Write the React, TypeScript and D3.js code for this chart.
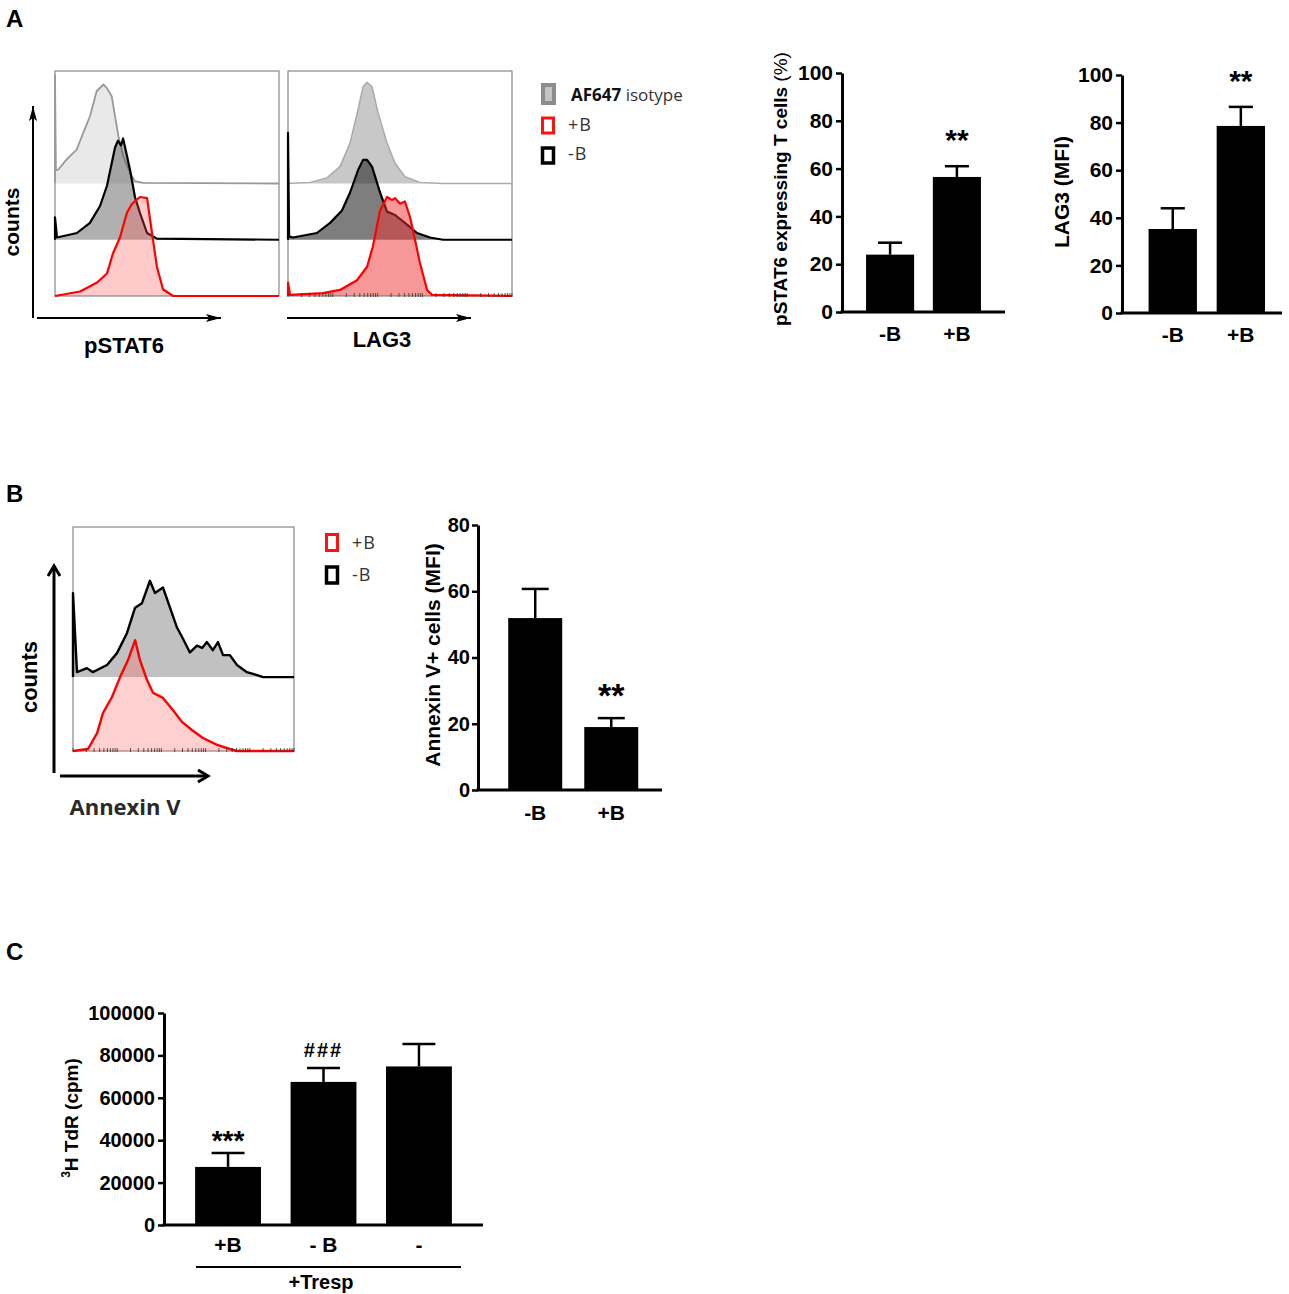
import React, { useEffect, useRef } from 'react';
import * as d3 from 'd3';

const W = 1289;
const H = 1294;
const ARIAL = 'Liberation Sans, Arial, sans-serif';
const SEGOE = 'Open Sans, sans-serif';

// bar data
const groupsAB = ['-B', '+B'];
const pstat6Mean = [24, 56.5];
const pstat6Err = [5, 4.5];
const pstat6Sig = ['', '**'];
const lag3Mean = [35.3, 78.6];
const lag3Err = [8.7, 8];
const lag3Sig = ['', '**'];
const annexinMean = [51.9, 19];
const annexinErr = [8.8, 2.7];
const annexinSig = ['', '**'];
const groupsC = ['+B', '- B', '-'];
const tdrMean = [27400, 67500, 74800];
const tdrErr = [6600, 6500, 10600];
const tdrSig = ['***', '###', ''];
const ticksA = [0, 20, 40, 60, 80, 100];
const ticksB = [0, 20, 40, 60, 80];
const ticksC = [0, 20000, 40000, 60000, 80000, 100000];

// histogram traces: [channel 0-100, counts]
const pstat6Iso = [[0, 0], [0, 48], [0.4, 6], [1.5, 6.2], [5.2, 10.7], [9.7, 15.1], [12.6, 22.5], [15.6, 29.9], [18.6, 41], [21.6, 44], [23.1, 42.5], [25.3, 38.8], [26.8, 29.9], [28.3, 21], [30.5, 12.1], [33.5, 4.7], [35.7, 1], [39.4, 0.3], [100, 0]];
const pstat6Neg = [[0, 0], [0, 10], [0.9, 1], [9.8, 3], [15.6, 7.5], [20.1, 15], [23.2, 24], [26.8, 41], [28.1, 44], [29.5, 42], [30.4, 45], [31.3, 41], [33.5, 31], [35.7, 19], [37.9, 12], [41.1, 3], [45.5, 0.5], [100, 0]];
const pstat6Pos = [[0, 0], [11.2, 2], [18.8, 6], [23.2, 10], [25.9, 19], [29, 26], [32.1, 37], [34.4, 41], [37.9, 44], [41.1, 43.5], [43.3, 28], [45.5, 13], [48.2, 3], [52.7, 0], [100, 0]];
const lag3Iso = [[0, 0], [9.8, 0.5], [17.4, 2.5], [23.2, 7.5], [27.7, 18], [31.3, 33], [33.5, 43], [35.3, 45], [37.5, 43], [40.2, 31.5], [44.2, 18], [47.8, 9], [52.2, 3], [58.9, 0.5], [69.2, 0], [100, 0]];
const lag3Neg = [[0, 0], [0, 47.5], [0.5, 1.5], [2.2, 1], [12.9, 3], [18.8, 7.5], [24.1, 13], [27.7, 21], [31.3, 31], [33.5, 35.5], [35.3, 35.5], [37.5, 32.5], [41.1, 21], [44.2, 12.5], [47.8, 11], [52.2, 7.5], [57.6, 3], [63.4, 1], [69.2, 0], [100, 0]];
const lag3Pos = [[0, 0], [0, 6], [0.9, 0.5], [15.6, 1.3], [23.2, 2.7], [30.8, 7], [35.3, 13], [37.9, 22], [41.1, 38], [44.2, 44], [46.4, 42.7], [47.8, 43.5], [50, 41], [52.2, 42], [54.5, 35], [56.7, 25], [58.9, 14.7], [62.1, 2.7], [64.3, 0.5], [100, 0]];
const annexinNeg = [[0, 0], [0, 37.5], [1.8, 2.2], [6.3, 4], [9, 2.2], [15.4, 5.4], [19.9, 10.7], [24.4, 19.6], [28.1, 31], [31.2, 33], [34.8, 43], [37.1, 37.5], [40.7, 40], [43.9, 31], [47.1, 22], [49.3, 18], [52.9, 11], [56.1, 14], [58.4, 13], [60.6, 15.6], [63.3, 12], [65.6, 15.6], [67.9, 9.8], [71, 9.8], [74.2, 5.4], [78.7, 2.2], [83.3, 0.9], [86, 0], [100, 0]];
const annexinPos = [[0, 0], [6.8, 0.9], [10.9, 8], [13.6, 17], [17.6, 24], [21.3, 33], [24.9, 40.6], [28.1, 49.5], [30.3, 40.6], [33.5, 31.7], [36.2, 26], [40.7, 23.7], [45.2, 18.3], [49.3, 13], [53.8, 9.4], [58.8, 5.8], [65.2, 2.7], [71, 0.9], [74.2, 0], [100, 0]];

const legendA = ['isotype', '+B', '-B'];
const legendB = ['+B', '-B'];

function drawHist(g, cfg) {
  const x = d3.scaleLinear().domain([0, 100]).range([cfg.x0, cfg.x1]);
  const y = d3.scaleLinear().domain([0, 100]).range([cfg.y1, cfg.y0]);
  g.append('rect')
    .attr('x', cfg.x0).attr('y', cfg.y0)
    .attr('width', cfg.x1 - cfg.x0).attr('height', cfg.y1 - cfg.y0)
    .attr('fill', 'none').attr('stroke', '#888').attr('stroke-width', 1.2);

  cfg.traces.forEach(t => {
    const area = d3.area()
      .x(d => x(d[0]))
      .y0(y(t.offset))
      .y1(d => y(d[1] + t.offset));
    const line = d3.line()
      .x(d => x(d[0]))
      .y(d => y(d[1] + t.offset));
    g.append('path').attr('d', area(t.data)).attr('fill', t.fill);
    g.append('path').attr('d', line(t.data))
      .attr('fill', 'none').attr('stroke', t.stroke)
      .attr('stroke-width', t.sw).attr('stroke-linejoin', 'round');
  });

  if (cfg.logTicks) {
    const lx = d3.scaleLog().domain([1, 100000]).range([cfg.x0, cfg.x1]);
    g.append('g').selectAll('line')
      .data(lx.ticks())
      .join('line')
      .attr('x1', d => lx(d)).attr('x2', d => lx(d))
      .attr('y1', cfg.y1 - 3).attr('y2', cfg.y1 + 1)
      .attr('stroke', '#333').attr('stroke-width', 0.8);
  }
}

function drawBars(g, cfg) {
  const x = d3.scaleBand().domain(cfg.groups)
    .range([cfg.x0, cfg.x1])
    .paddingInner(cfg.pi).paddingOuter(cfg.po).align(cfg.align);
  const y = d3.scaleLinear().domain([0, cfg.max]).range([cfg.y0, cfg.y1]);
  const data = cfg.groups.map((k, i) => ({ k, v: cfg.mean[i], e: cfg.err[i], sig: cfg.sig[i] }));
  const bw = x.bandwidth();

  g.append('g').selectAll('rect')
    .data(data)
    .join('rect')
    .attr('x', d => x(d.k))
    .attr('y', d => y(d.v))
    .attr('width', bw)
    .attr('height', d => y(0) - y(d.v))
    .attr('fill', '#000');

  // error bars (upper only)
  const eb = g.append('g').attr('stroke', '#000').attr('stroke-width', 2.5);
  eb.selectAll('.stem').data(data).join('line').attr('class', 'stem')
    .attr('x1', d => x(d.k) + bw / 2).attr('x2', d => x(d.k) + bw / 2)
    .attr('y1', d => y(d.v)).attr('y2', d => y(d.v + d.e));
  eb.selectAll('.cap').data(data).join('line').attr('class', 'cap')
    .attr('x1', d => x(d.k) + bw * 0.25).attr('x2', d => x(d.k) + bw * 0.75)
    .attr('y1', d => y(d.v + d.e)).attr('y2', d => y(d.v + d.e));

  // y axis
  const ya = g.append('g')
    .attr('transform', `translate(${cfg.x0},0)`)
    .call(d3.axisLeft(y).tickValues(cfg.ticks).tickFormat(d3.format('d'))
      .tickSize(6).tickSizeOuter(0).tickPadding(cfg.tickPad || 3));
  ya.select('.domain').attr('stroke-width', 3);
  ya.selectAll('.tick line').attr('stroke-width', 2.5);
  ya.selectAll('.tick text')
    .attr('font-family', ARIAL).attr('font-size', cfg.tickFs)
    .attr('font-weight', 'bold').attr('fill', '#000');

  // x axis
  g.append('line')
    .attr('x1', cfg.x0 - 1.5).attr('x2', cfg.x1)
    .attr('y1', y(0)).attr('y2', y(0))
    .attr('stroke', '#000').attr('stroke-width', 3);

  g.append('g').selectAll('text')
    .data(data)
    .join('text')
    .attr('x', d => x(d.k) + bw / 2)
    .attr('y', y(0) + cfg.catGap)
    .attr('text-anchor', 'middle')
    .attr('font-family', ARIAL).attr('font-size', cfg.catFs).attr('font-weight', 'bold')
    .text(d => d.k);

  // significance marks
  g.append('g').selectAll('text')
    .data(data.filter(d => d.sig))
    .join('text')
    .attr('x', d => x(d.k) + bw / 2)
    .attr('y', d => y(d.v + d.e) - (d.sig[0] === '#' ? cfg.hashGap : cfg.sigGap))
    .attr('text-anchor', 'middle')
    .attr('font-family', ARIAL)
    .attr('font-size', d => (d.sig[0] === '#' ? 20 : cfg.sigFs))
    .attr('font-weight', 'bold')
    .attr('letter-spacing', d => (d.sig[0] === '#' ? 2 : 0))
    .text(d => d.sig);

  // y label
  const yl = g.append('text')
    .attr('transform', `translate(${cfg.labX},${cfg.labY}) rotate(-90)`)
    .attr('text-anchor', 'middle')
    .attr('font-family', ARIAL).attr('font-size', cfg.labFs).attr('font-weight', 'bold');
  if (cfg.labSup) {
    yl.append('tspan').attr('font-size', 12).attr('dy', -8).text(cfg.labSup);
    yl.append('tspan').attr('dy', 8).text(cfg.label);
  } else if (cfg.labTail) {
    yl.append('tspan').text(cfg.label);
    yl.append('tspan').attr('font-weight', 'normal').text(cfg.labTail);
  } else {
    yl.text(cfg.label);
  }
}

function textAt(g, x, y, txt, opts = {}) {
  return g.append('text')
    .attr('x', x).attr('y', y)
    .attr('text-anchor', opts.anchor || 'start')
    .attr('font-family', opts.family || ARIAL)
    .attr('font-size', opts.size || 22)
    .attr('font-weight', opts.weight || 'bold')
    .attr('fill', opts.fill || '#000')
    .attr('transform', opts.rotate ? `rotate(-90,${x},${y})` : null)
    .text(txt);
}

const App = () => {
  const svgRef = useRef(null);

  useEffect(() => {
    const svg = d3.select(svgRef.current);
    svg.selectAll('*').remove();

    const defs = svg.append('defs');
    defs.append('marker')
      .attr('id', 'arrA').attr('markerUnits', 'userSpaceOnUse')
      .attr('markerWidth', 16).attr('markerHeight', 10)
      .attr('refX', 15).attr('refY', 4).attr('orient', 'auto')
      .append('path').attr('d', 'M0,0 L15,4 L0,8 L3,4 Z').attr('fill', '#000');
    defs.append('marker')
      .attr('id', 'arrB').attr('markerUnits', 'userSpaceOnUse')
      .attr('markerWidth', 14).attr('markerHeight', 16)
      .attr('refX', 11).attr('refY', 7).attr('orient', 'auto')
      .append('path').attr('d', 'M1,1 L11,7 L1,13')
      .attr('fill', 'none').attr('stroke', '#000').attr('stroke-width', 3);

    const g = svg.append('g');

    // ---------------- panel A ----------------
    textAt(g, 6, 27, 'A', { size: 24 });

    drawHist(g, {
      x0: 55, x1: 279, y0: 71, y1: 296,
      traces: [
        { data: pstat6Iso, offset: 50, fill: '#e9e9e9', stroke: '#999', sw: 1.8 },
        { data: pstat6Neg, offset: 25, fill: 'rgba(80,80,80,0.45)', stroke: '#000', sw: 2.2 },
        { data: pstat6Pos, offset: 0, fill: 'rgba(255,80,80,0.3)', stroke: '#ff0000', sw: 2.2 },
      ],
    });
    drawHist(g, {
      x0: 288, x1: 512, y0: 71, y1: 296, logTicks: true,
      traces: [
        { data: lag3Iso, offset: 50, fill: '#c8c8c8', stroke: '#aaa', sw: 1.5 },
        { data: lag3Neg, offset: 25, fill: 'rgba(40,40,40,0.6)', stroke: '#000', sw: 2.2 },
        { data: lag3Pos, offset: 0, fill: 'rgba(240,50,50,0.5)', stroke: '#ff0000', sw: 2.2 },
      ],
    });

    g.append('line').attr('x1', 33).attr('y1', 318).attr('x2', 33).attr('y2', 106)
      .attr('stroke', '#000').attr('stroke-width', 2).attr('marker-end', 'url(#arrA)');
    g.append('line').attr('x1', 37).attr('y1', 318).attr('x2', 221).attr('y2', 318)
      .attr('stroke', '#000').attr('stroke-width', 2).attr('marker-end', 'url(#arrA)');
    g.append('line').attr('x1', 287).attr('y1', 318).attr('x2', 471).attr('y2', 318)
      .attr('stroke', '#000').attr('stroke-width', 2).attr('marker-end', 'url(#arrA)');
    textAt(g, 19, 222, 'counts', { anchor: 'middle', rotate: true, size: 21 });
    textAt(g, 124, 353, 'pSTAT6', { anchor: 'middle', size: 22 });
    textAt(g, 382, 347, 'LAG3', { anchor: 'middle', size: 22 });

    // legend A
    g.append('rect').attr('x', 543).attr('y', 85).attr('width', 11).attr('height', 18)
      .attr('fill', '#c4c4c4').attr('stroke', '#8c8c8c').attr('stroke-width', 4);
    g.append('rect').attr('x', 542.5).attr('y', 118).attr('width', 11).attr('height', 15)
      .attr('fill', '#fff').attr('stroke', '#ff1010').attr('stroke-width', 3);
    g.append('rect').attr('x', 542.5).attr('y', 148).attr('width', 11).attr('height', 15)
      .attr('fill', '#fff').attr('stroke', '#000').attr('stroke-width', 3.5);
    const isoT = textAt(g, 571, 101, '', { family: SEGOE, size: 17, weight: 'normal', fill: '#333' });
    isoT.append('tspan').attr('font-weight', 'bold').attr('fill', '#111').text('AF647 ');
    isoT.append('tspan').text(legendA[0]);
    textAt(g, 568, 131, legendA[1], { family: SEGOE, size: 18, weight: 'normal', fill: '#333' }).attr('letter-spacing', 1);
    textAt(g, 568, 160, legendA[2], { family: SEGOE, size: 18, weight: 'normal', fill: '#333' }).attr('letter-spacing', 1);

    drawBars(g, {
      groups: groupsAB, mean: pstat6Mean, err: pstat6Err, sig: pstat6Sig,
      max: 100, ticks: ticksA,
      x0: 842, x1: 1005, y0: 312, y1: 73, pi: 0.28, po: 0.36, align: 0.5,
      tickFs: 21, catFs: 21, catGap: 29, sigFs: 30, sigGap: 16, hashGap: 11,
      label: 'pSTAT6 expressing T cells ', labTail: '(%)', labX: 787, labY: 189, labFs: 19,
    });
    drawBars(g, {
      groups: groupsAB, mean: lag3Mean, err: lag3Err, sig: lag3Sig,
      max: 100, ticks: ticksA,
      x0: 1122, x1: 1282, y0: 313, y1: 75, pi: 0.29, po: 0.32, align: 0.61,
      tickFs: 21, catFs: 21, catGap: 29, sigFs: 30, sigGap: 16, hashGap: 11,
      label: 'LAG3 (MFI)', labX: 1069, labY: 192, labFs: 21,
    });

    // ---------------- panel B ----------------
    textAt(g, 6, 502, 'B', { size: 24 });
    drawHist(g, {
      x0: 73, x1: 294, y0: 527, y1: 751, logTicks: true,
      traces: [
        { data: annexinNeg, offset: 33, fill: 'rgba(100,100,100,0.4)', stroke: '#000', sw: 2.4 },
        { data: annexinPos, offset: 0, fill: 'rgba(255,100,100,0.3)', stroke: '#ff0000', sw: 2.4 },
      ],
    });
    g.append('line').attr('x1', 54).attr('y1', 773).attr('x2', 54).attr('y2', 566)
      .attr('stroke', '#000').attr('stroke-width', 3).attr('marker-end', 'url(#arrB)');
    g.append('line').attr('x1', 60).attr('y1', 776).attr('x2', 208).attr('y2', 776)
      .attr('stroke', '#000').attr('stroke-width', 3).attr('marker-end', 'url(#arrB)');
    textAt(g, 37, 677, 'counts', { anchor: 'middle', rotate: true, size: 22 });
    textAt(g, 125, 815, 'Annexin V', { anchor: 'middle', family: SEGOE, size: 22, weight: 700, fill: '#2a2a2a' });

    g.append('rect').attr('x', 326.5).attr('y', 534.5).attr('width', 11).attr('height', 16)
      .attr('fill', '#fff').attr('stroke', '#ff1010').attr('stroke-width', 3);
    g.append('rect').attr('x', 326.5).attr('y', 567).attr('width', 11).attr('height', 16)
      .attr('fill', '#fff').attr('stroke', '#000').attr('stroke-width', 3.5);
    textAt(g, 352, 549, legendB[0], { family: SEGOE, size: 18, weight: 'normal', fill: '#333' }).attr('letter-spacing', 1);
    textAt(g, 352, 581, legendB[1], { family: SEGOE, size: 18, weight: 'normal', fill: '#333' }).attr('letter-spacing', 1);

    drawBars(g, {
      groups: groupsAB, mean: annexinMean, err: annexinErr, sig: annexinSig,
      max: 80, ticks: ticksB,
      x0: 478, x1: 662, y0: 790, y1: 525, pi: 0.29, po: 0.355, align: 0.56,
      tickFs: 20, tickPad: 2, catFs: 21, catGap: 30, sigFs: 34, sigGap: 11, hashGap: 11,
      label: 'Annexin V+ cells (MFI)', labX: 440, labY: 655, labFs: 21,
    });

    // ---------------- panel C ----------------
    textAt(g, 6, 960, 'C', { size: 24 });
    drawBars(g, {
      groups: groupsC, mean: tdrMean, err: tdrErr, sig: tdrSig,
      max: 100000, ticks: ticksC,
      x0: 164, x1: 483, y0: 1225, y1: 1013, pi: 0.31, po: 0.326, align: 0.5,
      tickFs: 20, catFs: 21, catGap: 27, sigFs: 28, sigGap: 3, hashGap: 11,
      label: 'H TdR (cpm)', labSup: '3', labX: 78, labY: 1118, labFs: 19,
    });
    g.append('line').attr('x1', 196).attr('x2', 461).attr('y1', 1267).attr('y2', 1267)
      .attr('stroke', '#000').attr('stroke-width', 2);
    textAt(g, 321, 1289, '+Tresp', { anchor: 'middle', size: 20 });
  }, []);

  return (
    <div style={{ position: 'absolute', left: 0, top: 0 }}>
      <svg ref={svgRef} width={W} height={H} style={{ display: 'block', background: '#fff' }} />
    </div>
  );
};

export default App;
